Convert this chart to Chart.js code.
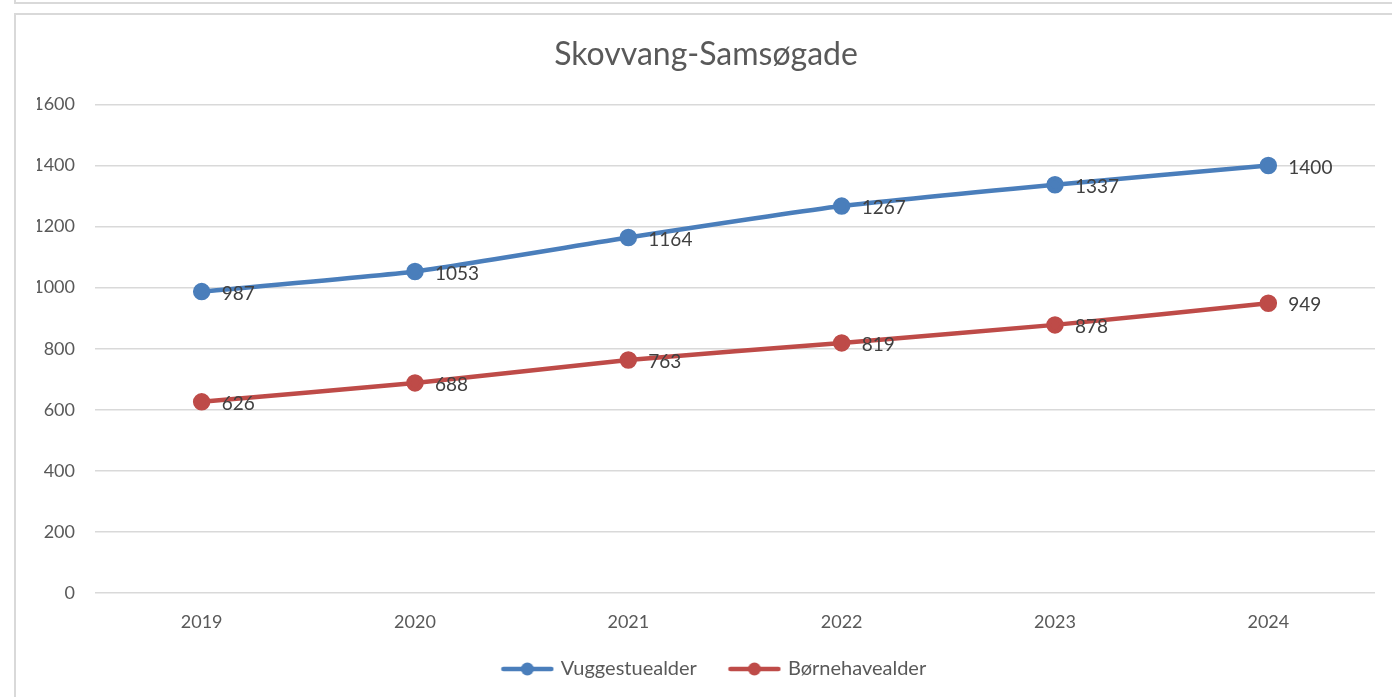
<!DOCTYPE html>
<html>
<head>
<meta charset="utf-8">
<script src="https://cdn.jsdelivr.net/npm/chart.js@4.4.0/dist/chart.umd.min.js"></script>
<style>
  html, body { margin: 0; padding: 0; background: #fff; overflow: hidden; }
  #wrap { position: relative; width: 1392px; height: 697px; }
  #chart { position: absolute; left: 0; top: 0; }
  .frame { position: absolute; border: 2px solid #d9d9d9; pointer-events: none; }
</style>
</head>
<body>
<div id="wrap">
  <canvas id="chart" width="1392" height="697"></canvas>
  <div class="frame" style="left:14px; top:-10px; width:1400px; height:10px;"></div>
  <div class="frame" style="left:14px; top:13px; width:1400px; height:700px;"></div>
</div>
<script>
// Chart data
const years = ["2019", "2020", "2021", "2022", "2023", "2024"];
const vuggestue = [987, 1053, 1164, 1267, 1337, 1400];
const boernehave = [626, 688, 763, 819, 878, 949];
const yTicks = [0, 200, 400, 600, 800, 1000, 1200, 1400, 1600];

const FONT = "Lato, 'Open Sans', sans-serif";
const BLUE = "#4a7ebb";
const RED = "#be4b48";

// legend marker: line with a dot in the middle (blank space on the left = gap between items)
const MARK_W = 72;
function legendMarker(color) {
  const c = document.createElement("canvas");
  c.width = MARK_W;
  c.height = 16;
  const g = c.getContext("2d");
  g.strokeStyle = color;
  g.lineWidth = 4.5;
  g.lineCap = "round";
  g.beginPath();
  g.moveTo(MARK_W - 51, 8);
  g.lineTo(MARK_W - 3, 8);
  g.stroke();
  g.fillStyle = color;
  g.beginPath();
  g.arc(MARK_W - 27, 8, 6.5, 0, Math.PI * 2);
  g.fill();
  return c;
}

// draw value labels to the right of each point
const valueLabels = {
  id: "valueLabels",
  afterDatasetsDraw(chart) {
    const ctx = chart.ctx;
    ctx.save();
    ctx.font = "19px " + FONT;
    ctx.fillStyle = "#404040";
    ctx.textAlign = "left";
    ctx.textBaseline = "middle";
    chart.data.datasets.forEach((ds, i) => {
      const meta = chart.getDatasetMeta(i);
      meta.data.forEach((pt, j) => {
        ctx.fillText(ds.data[j], pt.x + 20, pt.y + 2);
      });
    });
    ctx.restore();
  },
};

new Chart(document.getElementById("chart").getContext("2d"), {
  type: "line",
  data: {
    labels: years,
    datasets: [
      {
        label: "Vuggestuealder",
        data: vuggestue,
        borderColor: BLUE,
        backgroundColor: BLUE,
        borderWidth: 4.5,
        pointRadius: 6.5,
        pointStyle: "circle",
        tension: 0.15,
      },
      {
        label: "Børnehavealder",
        data: boernehave,
        borderColor: RED,
        backgroundColor: RED,
        borderWidth: 4.5,
        pointRadius: 6.5,
        pointStyle: "circle",
        tension: 0.15,
      },
    ],
  },
  options: {
    responsive: false,
    animation: false,
    layout: {
      padding: { left: 37, right: 17, top: 20, bottom: 8 },
    },
    plugins: {
      title: {
        display: true,
        text: "Skovvang-Samsøgade",
        color: "#595959",
        font: { family: FONT, size: 32, weight: "normal" },
        padding: { top: 15, bottom: 31 },
      },
      legend: {
        position: "bottom",
        labels: {
          color: "#595959",
          font: { family: FONT, size: 20 },
          usePointStyle: true,
          pointStyleWidth: MARK_W - 7,
          generateLabels(chart) {
            return chart.data.datasets.map((ds, i) => ({
              text: ds.label,
              fontColor: "#595959",
              pointStyle: legendMarker(ds.borderColor),
              datasetIndex: i,
              lineWidth: 0,
              strokeStyle: "transparent",
              fillStyle: "transparent",
            }));
          },
          padding: 16,
        },
      },
      tooltip: { enabled: false },
    },
    scales: {
      x: {
        offset: true,
        grid: { display: false },
        border: { display: false },
        ticks: {
          color: "#595959",
          font: { family: FONT, size: 18 },
          padding: 10,
        },
        afterFit(axis) {
          axis.height = 50;
        },
      },
      y: {
        min: 0,
        max: 1600,
        afterBuildTicks(axis) {
          axis.ticks = yTicks.map((v) => ({ value: v }));
        },
        afterFit(axis) {
          axis.width = 58;
        },
        grid: { color: "#d9d9d9", lineWidth: 1.5, drawTicks: false },
        border: { display: false },
        ticks: {
          color: "#595959",
          font: { family: FONT, size: 18 },
          padding: 20,
          callback: (v) => String(v),
        },
      },
    },
  },
  plugins: [valueLabels],
});
</script>
</body>
</html>
